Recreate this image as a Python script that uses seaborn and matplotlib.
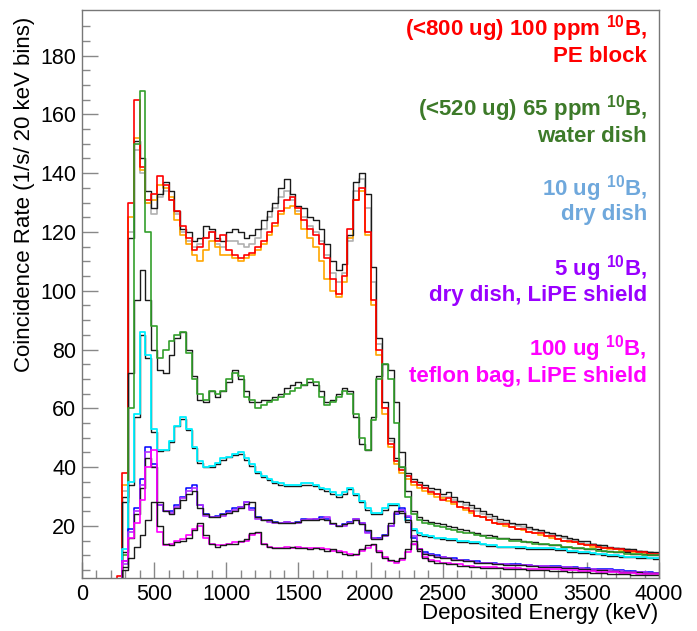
import numpy as np
import pandas as pd
import matplotlib
matplotlib.use("Agg")
import matplotlib.pyplot as plt
import seaborn as sns

# 40 keV wide bins, 0 - 4000 keV
n_bins = 100
bin_centers = np.arange(20, 4000, 40)

# 100 ppm 10B, PE block (data + comparison curves)
pe_red = [0, 0, 0, 0, 0, 0, 3, 38, 130, 165,
          142, 131, 133, 139, 136, 131, 127, 122, 118, 114,
          115, 118, 120, 117, 119, 114, 112, 111, 112, 113,
          115, 117, 120, 123, 127, 131, 132, 128, 124, 121,
          119, 116, 111, 104, 99, 105, 121, 131, 135, 120,
          97, 80, 60, 48, 42, 39, 37, 35, 34, 33,
          31.5, 31, 29, 29.5, 28, 26.5, 26, 25, 23.5, 23,
          22, 21, 20.5, 20.5, 19.5, 19, 19, 18, 17.5, 17.5,
          16.5, 16.5, 15.5, 15, 15, 14.5, 14, 13.5, 13.5, 13,
          12.5, 12.5, 12, 12, 11.5, 11.5, 11, 11, 10.5, 10.5]
pe_orange = [0, 0, 0, 0, 0, 0, 2, 34, 125, 152,
             141, 130, 131, 136, 135, 132, 124, 119, 116, 112,
             110, 114, 117, 115, 112, 112, 111, 110, 111, 112,
             114, 116, 119, 122, 126, 128, 129, 126, 121, 118,
             115, 110, 104, 100, 98, 103, 118, 131, 134, 119,
             95, 78, 58, 47, 41, 38, 36, 34, 33, 32,
             31, 30, 29.5, 28.5, 27.5, 26.5, 25.5, 24.5, 23.5, 23,
             22, 21, 20.5, 20, 19.5, 19, 18.5, 18, 17.5, 17,
             16.5, 16, 15.5, 15, 14.5, 14.5, 14, 13.5, 13, 13,
             12.5, 12, 12, 11.5, 11.5, 11, 11, 10.5, 10.5, 10]
pe_gray = [0, 0, 0, 0, 0, 0, 2, 32, 120, 148,
           140, 130, 126, 132, 134, 131, 126, 120, 117, 115,
           116, 118, 120, 116, 115, 117, 117, 116, 115, 116,
           118, 121, 125, 128, 132, 134, 131, 127, 125, 122,
           120, 117, 112, 106, 103, 106, 117, 134, 138, 128,
           103, 82, 60, 49, 42, 39, 37, 35, 34, 33,
           32, 31, 30, 30, 29, 28, 27, 26, 25, 24,
           23, 22.5, 21.5, 21, 20.5, 20, 19.5, 19, 18.5, 18,
           17.5, 17, 16.5, 16, 15.5, 15, 14.5, 14, 14, 13.5,
           13, 12.5, 12.5, 12, 12, 11.5, 11.5, 11, 11, 10.5]
pe_black = [0, 0, 0, 0, 0, 0, 2, 30, 118, 151,
            145, 134, 128, 133, 137, 134, 127, 121, 120, 117,
            118, 122, 121, 118, 117, 120, 121, 120, 118, 119,
            121, 124, 127, 130, 135, 138, 133, 129, 128, 125,
            124, 121, 116, 110, 107, 109, 119, 137, 140, 133,
            108, 84, 62, 50, 43, 40, 38, 36, 35, 34,
            33, 32.5, 31, 31.5, 30, 28.5, 28, 27, 26, 25,
            24, 23.5, 22.5, 22, 21, 20.5, 20.5, 19.5, 19, 18.5,
            18, 17.5, 17, 16.5, 16, 15.5, 15, 15, 14, 13.5,
            13.5, 13, 12.5, 12.5, 12, 12, 11.5, 11.5, 11, 11]

# 65 ppm 10B, water dish
water_green = [0, 0, 0, 0, 0, 0, 0, 10, 60, 150,
               168, 120, 88, 77, 80, 83, 85, 86, 79, 70,
               65, 63, 66, 65, 66, 70, 72, 71, 64, 63,
               60, 61, 62, 63, 64, 65, 66, 67, 68, 70,
               69, 64, 61, 62, 64, 66, 65, 58, 50, 46,
               56, 70, 75, 70, 55, 40, 30, 24, 22, 21,
               20.5, 20, 19.5, 19, 18.5, 18, 17.5, 17.5, 17, 16.5,
               16, 16, 15.5, 15.5, 15, 15, 14.5, 14.5, 14, 14,
               14, 13.5, 13.5, 13, 13, 12.5, 12.5, 12, 12, 11.5,
               11.5, 11, 11, 11, 10.5, 10.5, 10.5, 10, 10, 10]
water_black = [0, 0, 0, 0, 0, 0, 1, 28, 72, 97,
               107, 97, 80, 73, 72, 78, 84, 86, 80, 71,
               63, 62, 66, 64, 66, 69, 73, 70, 66, 62,
               62, 63, 63, 64, 65, 67, 68, 69, 68, 69,
               68, 66, 62, 63, 65, 67, 66, 57, 48, 46,
               57, 71, 75, 73, 62, 45, 32, 25, 23, 22,
               21.5, 21, 20.5, 20, 19.5, 19, 18.5, 18, 17.5, 17,
               17, 16.5, 16, 16, 15.5, 15.5, 15, 14.5, 14.5, 14,
               14, 13.5, 13.5, 13, 13, 12.5, 12.5, 12, 12, 12,
               11.5, 11.5, 11, 11, 11, 10.5, 10.5, 10.5, 10, 10]

# 10 ug 10B, dry dish
dry_cyan = [0, 0, 0, 0, 0, 0, 0, 12, 35, 58,
            86, 78, 53, 46, 46, 49, 54, 57, 53, 47,
            42, 40, 40.5, 41.5, 43, 43.5, 44.5, 45, 43, 41,
            38.5, 37, 36, 35, 34.5, 34, 34, 34, 34.5, 34.5,
            34, 33, 32.5, 31.5, 30.5, 31.5, 33, 31, 28.5, 26,
            24.5, 24.5, 26, 27.5, 27.5, 25.5, 22, 19, 17.5, 17,
            16.5, 16, 16, 15.5, 15.5, 15, 15, 14.5, 14.5, 14,
            13.5, 13.5, 13, 13, 13, 12.8, 12.8, 12.6, 12.6, 12.5,
            12.5, 12.5, 12, 12, 11.5, 11.5, 11, 11, 10.8, 10.5,
            10.3, 10.1, 10, 9.8, 9.6, 9.5, 9.4, 9.3, 9.2, 9.1]
dry_black = [0, 0, 0, 0, 0, 0, 0, 11, 34, 57,
             85, 77, 52, 45.5, 46, 48.5, 54, 56.5, 52.5, 46.5,
             41.5, 40, 40, 41, 42.5, 43.5, 44, 44.5, 42.5, 40.5,
             38, 36.5, 35.5, 34.5, 34, 33.5, 33.5, 33.5, 34, 34,
             33.5, 32.5, 32, 31, 30, 31, 32.5, 30.5, 28, 25.5,
             24, 24, 25.5, 27, 27, 25, 21.5, 18.5, 17, 16.5,
             16.2, 15.8, 15.7, 15.2, 15.2, 14.7, 14.7, 14.2, 14.2, 13.8,
             13.3, 13.2, 12.8, 12.8, 12.7, 12.5, 12.5, 12.3, 12.3, 12.2,
             12.2, 12.2, 11.8, 11.7, 11.3, 11.2, 10.8, 10.8, 10.5, 10.3,
             10.1, 9.9, 9.8, 9.6, 9.4, 9.3, 9.2, 9.1, 9, 8.9]

# 5 ug 10B, dry dish, LiPE shield
lipe_blue = [0, 0, 0, 0, 0, 0, 0, 8, 19, 26,
             36, 47, 41, 27, 25, 25, 27, 30, 33, 34,
             27, 24, 23, 23.5, 24, 25, 26, 26.5, 28, 26,
             23, 22, 22, 21.5, 21, 21.5, 21, 21.5, 22.5, 22,
             22.5, 23, 22.5, 20.5, 20, 20.5, 21.5, 22.5, 21, 18,
             16, 16, 17, 20, 24, 26, 23, 16, 12, 11,
             10.5, 10, 9.5, 9, 9, 8.5, 8.5, 8, 8, 7.5,
             7.5, 7.5, 7, 7, 7, 7, 6.8, 6.8, 6.5, 6.5,
             6.5, 6.5, 6.5, 6, 6, 6, 5.8, 5.6, 5.5, 5.5,
             5.5, 5.2, 5, 5, 4.8, 4.6, 4.5, 4.3, 4.2, 4]
lipe_purple = [0, 0, 0, 0, 0, 0, 0, 7, 18, 25,
               34, 45, 40, 27, 25, 24.5, 26.5, 29.5, 32, 33,
               27, 23.5, 23, 23, 23.5, 24.5, 25.5, 26.5, 28, 25.5,
               22.5, 22, 21.5, 21, 21, 21.5, 21, 21, 22, 22.5,
               22.5, 22.5, 23, 20.5, 20, 20, 21, 22.5, 21, 17.5,
               16, 15.5, 16.5, 20, 24.5, 25.5, 23.5, 16.5, 12, 10.5,
               10, 9.5, 9.5, 9, 8.5, 8.5, 8, 8, 7.5, 7.5,
               7.5, 7, 7, 7, 6.8, 6.8, 6.6, 6.6, 6.5, 6.4,
               6.3, 6.2, 6.1, 6, 5.9, 5.8, 5.6, 5.4, 5.2, 5,
               5, 4.9, 4.8, 4.6, 4.5, 4.4, 4.3, 4.2, 4.1, 4]
lipe_black = [0, 0, 0, 0, 0, 0, 0, 6, 16, 24,
              33, 43, 40, 28, 25, 24, 26, 29, 31, 32,
              26, 24, 23, 23, 24, 24.5, 25, 26, 27.5, 28,
              23, 22, 22, 21.5, 21, 21, 21, 21.5, 22, 22,
              22, 22.5, 22, 21, 20, 20.5, 21, 22, 20.5, 18.5,
              15.5, 15.5, 17, 21, 25, 24.5, 22, 14, 11.5, 10.5,
              10, 9.5, 9, 9, 8.5, 8.5, 8, 8, 7.5, 7.5,
              7.3, 7, 7, 6.8, 6.8, 6.6, 6.6, 6.4, 6.3, 6.2,
              6.1, 6, 5.9, 5.8, 5.7, 5.6, 5.4, 5.3, 5.1, 5,
              4.9, 4.8, 4.7, 4.5, 4.4, 4.3, 4.2, 4.1, 4, 3.9]

# 100 ug 10B, teflon bag, LiPE shield
teflon_magenta = [0, 0, 0, 0, 0, 0, 0, 8, 16, 21,
                  29, 40, 46, 18, 13.5, 14, 15, 15.5, 17, 19,
                  20, 16, 14, 13.5, 13.5, 14, 14.5, 14.5, 15, 17,
                  17.5, 14, 13, 12.5, 12.5, 13, 12.5, 13, 12.5, 12.5,
                  12.5, 12.5, 12, 11.5, 11.5, 11, 10.5, 10, 11.5, 12.5,
                  13.5, 11.5, 9.5, 8, 7.5, 8.5, 11, 14, 12, 9.5,
                  8.5, 8, 7.5, 7.5, 7, 7, 6.5, 6.5, 6, 6,
                  6, 6, 5.8, 5.8, 5.6, 5.6, 5.5, 5.5, 5.4, 5.4,
                  5.3, 5.3, 5.2, 5.1, 5, 5, 4.8, 4.7, 4.6, 4.5,
                  4.4, 4.3, 4.2, 4.1, 4, 3.9, 3.8, 3.7, 3.6, 3.5]
teflon_black = [0, 0, 0, 0, 0, 0, 0, 5, 9, 13,
                17, 22, 28, 20, 14, 13.5, 14.5, 15, 16, 18.5,
                21, 17, 14, 13, 13.5, 14, 14, 15, 15.5, 17.5,
                18, 14, 13, 12.5, 12.5, 12.5, 13, 12.5, 12.5, 12,
                12.5, 12, 11.5, 12, 11, 10.5, 10, 10.5, 12, 13.5,
                14, 11, 9, 8.5, 8, 9, 12, 15, 12, 9,
                8, 7.5, 7.5, 7, 7, 6.5, 6.5, 6, 6, 5.8,
                5.8, 5.6, 5.6, 5.5, 5.4, 5.3, 5.2, 5.1, 5, 5,
                4.9, 4.8, 4.7, 4.6, 4.5, 4.4, 4.3, 4.2, 4.1, 4,
                3.9, 3.8, 3.7, 3.6, 3.5, 3.4, 3.4, 3.3, 3.3, 3.2]

legend_lines = [
    ("(<800 ug) 100 ppm $^{\\mathbf{10}}$B,", "PE block", "#ff0000"),
    ("(<520 ug) 65 ppm $^{\\mathbf{10}}$B,", "water dish", "#3d7a29"),
    ("10 ug $^{\\mathbf{10}}$B,", "dry dish", "#6fa8dc"),
    ("5 ug $^{\\mathbf{10}}$B,", "dry dish, LiPE shield", "#9900ff"),
    ("100 ug $^{\\mathbf{10}}$B,", "teflon bag, LiPE shield", "#ff00ff"),
]

sns.set_style("white")
plt.rcParams['font.family'] = ['Liberation Sans', 'DejaVu Sans']
plt.rcParams['mathtext.fontset'] = 'custom'
plt.rcParams['mathtext.rm'] = 'Liberation Sans'
plt.rcParams['mathtext.bf'] = 'Liberation Sans:bold'

fig = plt.figure(figsize=(6.97, 6.31), dpi=100)
ax = fig.add_axes([82 / 697, 53 / 631, 577 / 697, 568 / 631])

# drawing order: last one ends up on top; black = comparison curves
series = [
    (pe_gray, "#b0b0b0", 1.2), (pe_orange, "#ffa500", 1.2),
    (pe_black, "#1a1a1a", 1.0), (pe_red, "#ff0000", 1.2),
    (water_black, "#1a1a1a", 1.0), (water_green, "#33a02c", 1.2),
    (dry_black, "#1a1a1a", 1.0), (dry_cyan, "#00f0ff", 1.3),
    (lipe_blue, "#0000ff", 1.1), (lipe_purple, "#b030ff", 1.2), (lipe_black, "#1a1a1a", 1.0),
    (teflon_magenta, "#ff00ff", 1.2), (teflon_black, "#1a1a1a", 1.0),
]
for vals, col, lw in series:
    df = pd.DataFrame({"energy": bin_centers, "rate": vals})
    sns.histplot(data=df, x="energy", weights="rate", bins=n_bins, binrange=(0, 4000),
                 element="step", fill=False, color=col, linewidth=lw, ax=ax)

ax.set_xlim(0, 4000)
ax.set_ylim(2.3, 195.5)
ax.set_xticks(np.arange(0, 4001, 500))
ax.set_xticks(np.arange(0, 4001, 100), minor=True)
ax.set_yticks(np.arange(20, 181, 20))
ax.set_yticks(np.arange(5, 195, 5), minor=True)
ax.tick_params(axis="both", which="both", bottom=True, left=True, top=False, right=False)
ax.tick_params(axis="both", which="major", direction="in", length=11.5, width=1,
               color="#888888", labelsize=15.5, labelcolor="black", pad=4)
ax.tick_params(axis="both", which="minor", direction="in", length=5.8, width=1,
               color="#888888")
for side in ["left", "bottom", "top", "right"]:
    ax.spines[side].set_color("#777777")
    ax.spines[side].set_linewidth(1)
ax.set_xlabel("")
ax.set_ylabel("")

fig.text(658 / 697, 1 - 619 / 631, "Deposited Energy (keV)", ha="right", va="baseline",
         fontsize=16, color="black")
fig.text(25 / 697, 1 - 17 / 631, "Coincidence Rate (1/s/ 20 keV bins)", rotation=90,
         ha="center", va="top", fontsize=16, color="black")

baselines = [(35, 62), (115, 142), (195, 220), (275, 301), (355, 382)]
for (top_txt, bot_txt, col), (b1, b2) in zip(legend_lines, baselines):
    fig.text(647 / 697, 1 - b1 / 631, top_txt, ha="right", va="baseline",
             fontsize=16, fontweight="bold", color=col)
    fig.text(647 / 697, 1 - b2 / 631, bot_txt, ha="right", va="baseline",
             fontsize=16, fontweight="bold", color=col)

fig.savefig("out.png", dpi=100)
